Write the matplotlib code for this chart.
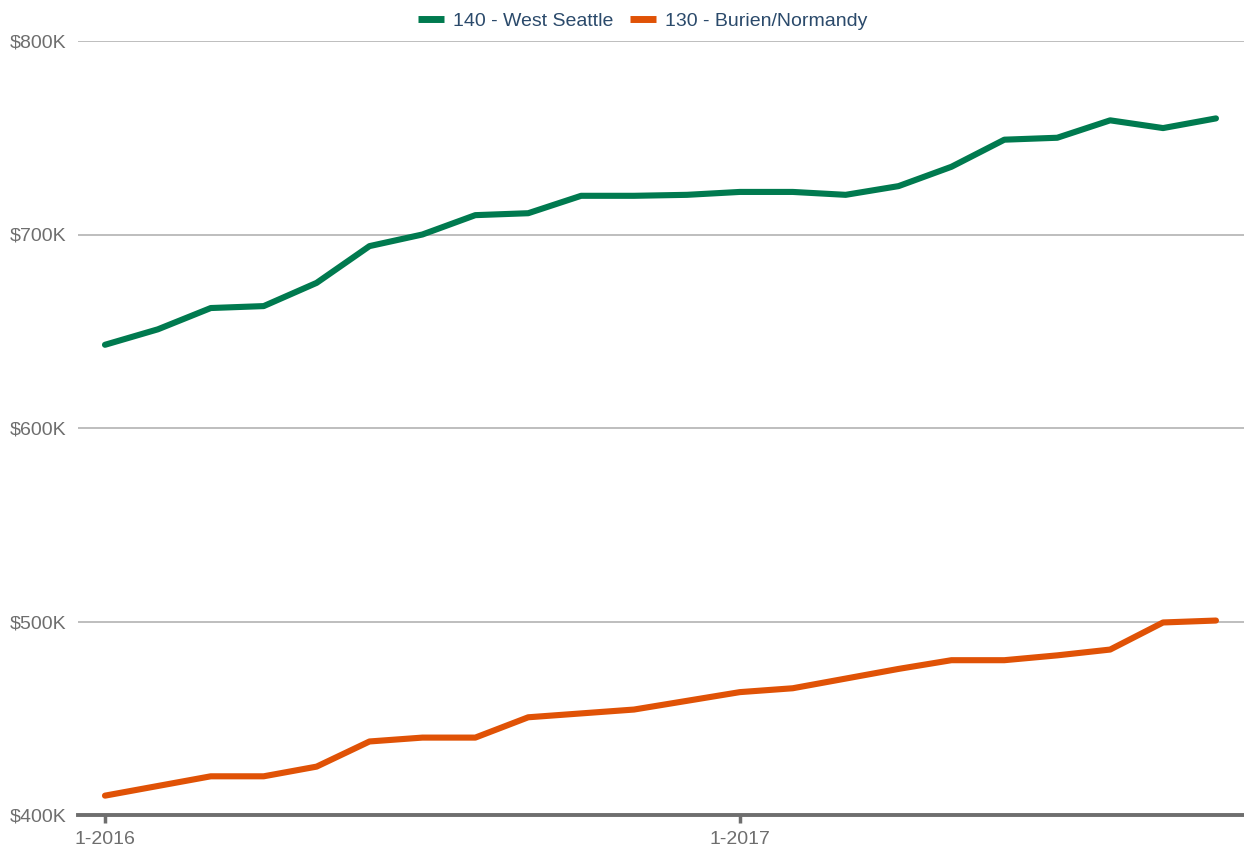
import matplotlib
matplotlib.use("Agg")
import matplotlib.pyplot as plt
import numpy as np

plt.rcParams["font.family"] = ["Liberation Sans", "DejaVu Sans"]

# monthly values, Jan 2016 .. Oct 2017 (in $K)
months = np.arange(22)
tick_pos = [0, 12]
tick_labels = ["1-2016", "1-2017"]
west_seattle = [643, 651, 662, 663, 675, 694, 700, 710, 711, 720, 720, 720.5,
                722, 722, 720.5, 725, 735, 749, 750, 759, 755, 760]
burien = [410, 415, 420, 420, 425, 438, 440, 440, 450.5, 452.5, 454.5, 459,
          463.5, 465.5, 470.5, 475.5, 480, 480, 482.5, 485.5, 499.5, 500.5]
y_ticks = [400, 500, 600, 700, 800]

fig = plt.figure(figsize=(12.44, 8.52), dpi=100)
ax = fig.add_axes([78 / 1244, 1 - 815 / 852, 1 - 78 / 1244, (815 - 41) / 852])

ax.plot(months, west_seattle, color="#007a4f", lw=4.4, solid_capstyle="round",
        solid_joinstyle="round", label="140 - West Seattle", zorder=3)
ax.plot(months, burien, color="#e05206", lw=4.4, solid_capstyle="round",
        solid_joinstyle="round", label="130 - Burien/Normandy", zorder=3)

ax.set_xlim(-0.51, 21.53)
ax.set_ylim(400, 800)
ax.set_yticks(y_ticks)
ax.set_yticklabels([f"${v}K" for v in y_ticks])
ax.set_xticks(tick_pos)
ax.set_xticklabels(tick_labels)

ax.grid(axis="y", color="#b3b3b3", lw=1.2)
ax.set_axisbelow(True)
for s in ["top", "right", "left"]:
    ax.spines[s].set_visible(False)
ax.spines["bottom"].set_color("#6e6e6e")
ax.spines["bottom"].set_linewidth(2.8)
ax.spines["bottom"].set_zorder(4)

ax.tick_params(axis="y", length=0, pad=8.5, labelsize=14, labelcolor="#6e6e6e")
ax.tick_params(axis="x", length=6, width=2.5, color="#6e6e6e", pad=5.5,
               labelsize=14, labelcolor="#6e6e6e")

leg = fig.legend(loc="center", bbox_to_anchor=(642.5 / 1244, 1 - 21.5 / 852), ncol=2,
                 frameon=False, fontsize=14, handlelength=1.34, handletextpad=0.46,
                 columnspacing=0.88)
for h in leg.legend_handles:
    h.set_linewidth(5)
    h.set_solid_capstyle("butt")
for t in leg.get_texts():
    t.set_color("#2b4a6b")

fig.savefig("out.png", dpi=100)
